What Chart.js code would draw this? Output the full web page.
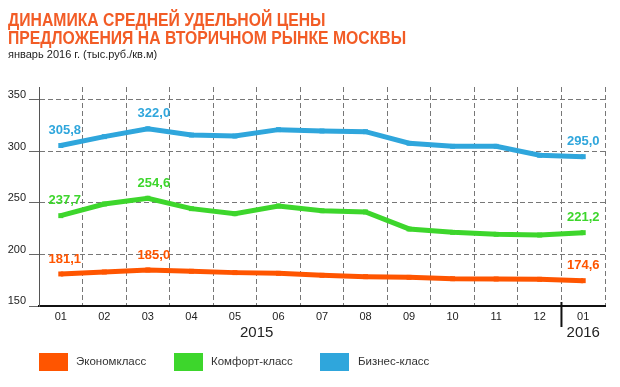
<!DOCTYPE html>
<html>
<head>
<meta charset="utf-8">
<script src="https://cdn.jsdelivr.net/npm/chart.js@4/dist/chart.umd.min.js"></script>
<style>
  body{margin:0;background:#fff;}
  #wrap{position:relative;width:620px;height:387px;overflow:hidden;font-family:"Liberation Sans",Arial,sans-serif;}
  #cv{position:absolute;left:0;top:0;}
  .title{position:absolute;left:8px;color:#f25c26;font-weight:bold;font-size:18px;white-space:nowrap;transform:scaleX(0.875);transform-origin:0 50%;}
  .sub{position:absolute;left:8px;top:48px;font-size:11px;color:#222;white-space:nowrap;}
  .leg{position:absolute;top:353px;width:29px;height:18px;}
  .legt{position:absolute;top:355px;font-size:11.5px;color:#333;white-space:nowrap;}
</style>
</head>
<body>
<div id="wrap">
  <canvas id="cv" width="620" height="387"></canvas>
  <div class="title" style="top:10px">ДИНАМИКА СРЕДНЕЙ УДЕЛЬНОЙ ЦЕНЫ</div>
  <div class="title" style="top:28px">ПРЕДЛОЖЕНИЯ НА ВТОРИЧНОМ РЫНКЕ МОСКВЫ</div>
  <div class="sub">январь 2016 г. (тыс.руб./кв.м)</div>
  <div class="leg" style="left:39px;background:#ff5500"></div>
  <div class="legt" style="left:76px">Экономкласс</div>
  <div class="leg" style="left:174px;background:#3dd62c"></div>
  <div class="legt" style="left:211px">Комфорт-класс</div>
  <div class="leg" style="left:320px;background:#2fa6dc"></div>
  <div class="legt" style="left:358px">Бизнес-класс</div>
</div>
<script>
// months: 01..12 of 2015 and 01 of 2016
let months = ["01","02","03","04","05","06","07","08","09","10","11","12","01"];
let econom  = [181.1, 183.0, 185.0, 183.7, 182.4, 181.7, 179.8, 178.5, 177.8, 176.5, 176.2, 175.9, 174.6];
let comfort = [237.7, 249.0, 254.6, 244.5, 239.6, 247.1, 242.5, 241.3, 224.8, 221.5, 219.6, 218.9, 221.2];
let business = [305.8, 314.4, 322.0, 316.0, 315.0, 321.2, 319.9, 319.2, 308.0, 305.0, 305.0, 296.3, 295.0];
let labeled = [0, 2, 12];
let yTicks = [150, 200, 250, 300, 350];

let colors = ["#ff5500", "#3dd62c", "#2fa6dc"];

function fmt(v){
    return v.toFixed(1).replace(".", ",");
}

// labels over points, years and the 2015/2016 separator
let extras = {
    id: "extras",
    afterDatasetsDraw: function(chart){
        let ctx = chart.ctx;
        let x = chart.scales.x;
        let area = chart.chartArea;
        ctx.save();
        ctx.font = "bold 13px 'Liberation Sans', Arial, sans-serif";
        ctx.textAlign = "center";
        ctx.textBaseline = "middle";
        chart.data.datasets.forEach(function(ds, i){
            let meta = chart.getDatasetMeta(i);
            labeled.forEach(function(idx){
                let p = meta.data[idx];
                let dx = idx === 0 ? 4 : (idx === 2 ? 6 : 0);
                ctx.fillStyle = ds.borderColor;
                ctx.fillText(fmt(ds.data[idx]), p.x + dx, p.y - 15);
            });
        });
        // separator between years
        let sep = (x.getPixelForValue(11) + x.getPixelForValue(12)) / 2;
        ctx.strokeStyle = "#111";
        ctx.lineWidth = 2;
        ctx.beginPath();
        ctx.moveTo(sep, area.bottom - 4);
        ctx.lineTo(sep, area.bottom + 21);
        ctx.stroke();
        // years
        ctx.font = "15px 'Liberation Sans', Arial, sans-serif";
        ctx.fillStyle = "#222";
        ctx.textBaseline = "middle";
        ctx.fillText("2015", (x.getPixelForValue(4) + x.getPixelForValue(5)) / 2, area.bottom + 27);
        ctx.fillText("2016", x.getPixelForValue(12), area.bottom + 27);
        ctx.restore();
    }
};

function series(label, data, color){
    return {
        label: label,
        data: data,
        borderColor: color,
        backgroundColor: color,
        borderWidth: 5,
        pointStyle: "rect",
        pointRadius: 3.5,
        pointBorderWidth: 0,
        tension: 0,
        fill: false
    };
}

new Chart(document.getElementById("cv"), {
    type: "line",
    plugins: [extras],
    data: {
        labels: months,
        datasets: [
            series("Экономкласс", econom, colors[0]),
            series("Комфорт-класс", comfort, colors[1]),
            series("Бизнес-класс", business, colors[2])
        ]
    },
    options: {
        responsive: false,
        animation: false,
        layout: {padding: {top: 87, left: 0, right: 15, bottom: 51}},
        plugins: {legend: {display: false}, tooltip: {enabled: false}},
        scales: {
            x: {
                offset: true,
                grid: {
                    offset: true,
                    color: "#777",
                    drawTicks: false
                },
                border: {color: "#111", width: 2, dash: [5, 3], display: true},
                ticks: {
                    color: "#222",
                    padding: 4,
                    maxRotation: 0,
                    autoSkip: false,
                    font: {size: 11, family: "'Liberation Sans', Arial, sans-serif"}
                },
                afterFit: function(s){ s.height = 30; }
            },
            y: {
                min: 150,
                max: 362.6,
                afterBuildTicks: function(s){
                    s.ticks = yTicks.map(function(v){ return {value: v}; });
                },
                grid: {
                    color: "#777",
                    tickLength: 10,
                    tickColor: "#666"
                },
                border: {color: "#555", width: 1, dash: [5, 3]},
                ticks: {
                    color: "#222",
                    padding: 3,
                    labelOffset: -5,
                    font: {size: 11, family: "'Liberation Sans', Arial, sans-serif"}
                },
                afterFit: function(s){ s.width = 39; }
            }
        }
    }
});
</script>
</body>
</html>
